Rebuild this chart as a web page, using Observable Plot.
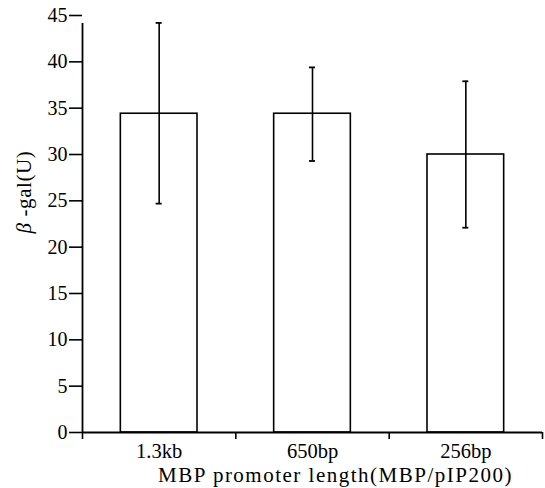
<!DOCTYPE html>
<html>
<head>
<meta charset="utf-8">
<script src="https://cdn.jsdelivr.net/npm/d3@7"></script>
<script src="https://cdn.jsdelivr.net/npm/@observablehq/plot@0.6"></script>
<style>
  html, body { margin: 0; padding: 0; background: #fff; }
  #chart svg { display: block; }
</style>
</head>
<body>
<div id="chart"></div>
<script>
const categories = ["1.3kb", "650bp", "256bp"];
const values = [34.4, 34.4, 30.0];
const errLow = [24.7, 29.3, 22.1];
const errHigh = [44.2, 39.4, 37.9];
const yTicks = [0, 5, 10, 15, 20, 25, 30, 35, 40, 45];
const xLabel = "MBP promoter length(MBP/pIP200)";
const yLabel = "β -gal(U)";

const data = categories.map((c, i) => ({
  cat: c, i, value: values[i], lo: errLow[i], hi: errHigh[i]
}));

const font = "Liberation Serif";

const chart = Plot.plot({
  width: 545,
  height: 488,
  marginLeft: 82,
  marginRight: 3,
  marginTop: 15,
  marginBottom: 56,
  style: { fontFamily: "'Liberation Serif', serif", color: "#000", background: "#fff" },
  x: { type: "linear", domain: [0, categories.length], axis: null },
  y: { domain: [0, 45], axis: null },
  marks: [
    Plot.rectY(data, {
      x1: d => d.i + 0.25, x2: d => d.i + 0.75, y1: 0, y2: "value",
      fill: "white", stroke: "black", strokeWidth: 1.6
    }),
    Plot.ruleX(data, { x: d => d.i + 0.5, y1: "lo", y2: "hi", stroke: "black", strokeWidth: 1.6 }),
    Plot.ruleY(data, { y: "hi", x1: d => d.i + 0.5, x2: d => d.i + 0.5, stroke: "black", strokeWidth: 1.8, insetLeft: -3, insetRight: -3 }),
    Plot.ruleY(data, { y: "lo", x1: d => d.i + 0.5, x2: d => d.i + 0.5, stroke: "black", strokeWidth: 1.8, insetLeft: -3, insetRight: -3 }),
    Plot.axisY({ ticks: yTicks, tickSize: 13, tickPadding: 2, tickFormat: d => String(d), label: null, strokeWidth: 1.6, fontSize: 20, fontFamily: font, fill: "black" }),
    Plot.axisX({ ticks: d3.range(categories.length + 1), tickSize: 7, tickFormat: () => "", label: null, strokeWidth: 1.6 }),
    Plot.axisX({ ticks: categories.map((c, i) => i + 0.5), tickSize: 0, tickPadding: 11, tickFormat: v => categories[Math.floor(v)], label: null, fontSize: 20.5, fontFamily: font, fill: "black" }),
    Plot.ruleY([0], { stroke: "black", strokeWidth: 1.8 }),
    Plot.ruleX([0], { y1: 0, y2: 45, stroke: "black", strokeWidth: 1.8, insetBottom: -8 }),
    Plot.text([xLabel], { frameAnchor: "bottom", lineAnchor: "middle", textAnchor: "middle", dx: 23, dy: 43, fontSize: 21, fontFamily: font, fill: "black" }),
    Plot.text([yLabel], { frameAnchor: "left", lineAnchor: "middle", textAnchor: "middle", dx: -58, dy: -32, rotate: -90, fontSize: 21, fontFamily: font, fill: "black" })
  ]
});

document.getElementById("chart").appendChild(chart);

d3.select(chart).selectAll("text").each(function () {
  const t = d3.select(this);
  const s = t.text();
  if (s === yLabel) {
    t.text(null).style("letter-spacing", "0.6px");
    t.append("tspan").attr("font-style", "italic").text("β");
    t.append("tspan").text(" -gal(U)");
  } else if (s === xLabel) {
    t.style("letter-spacing", "1.5px");
  }
});
</script>
</body>
</html>
